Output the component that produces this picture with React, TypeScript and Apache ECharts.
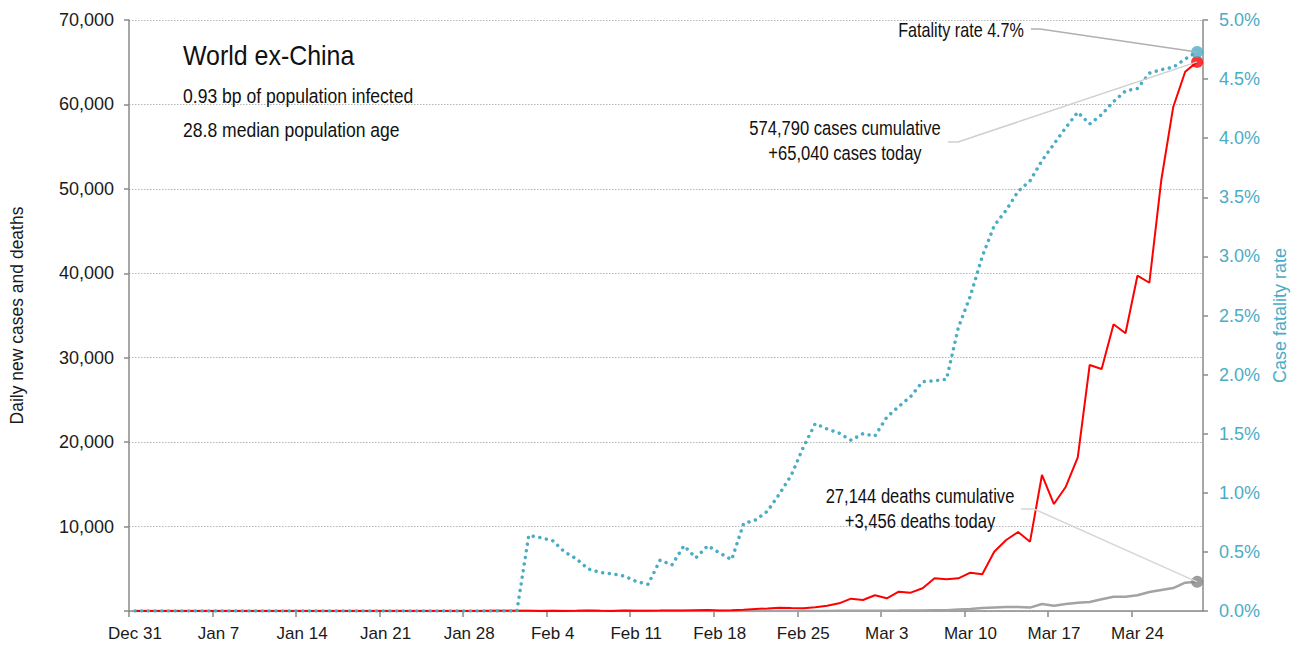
import React, { useEffect, useRef } from "react";
import * as echarts from "echarts";

// Day 0 = 31 Dec 2019; each daily value is plotted at noon of its date
const START_UTC = Date.UTC(2019, 11, 31);
const DAY_MS = 86400000;
const NOON = 0.5;
const MONTHS = ["Jan", "Feb", "Mar", "Apr", "May", "Jun", "Jul", "Aug", "Sep", "Oct", "Nov", "Dec"];

// Daily new cases, world ex-China (Dec 31 .. Mar 29)
const dailyCases = [
  0, 0, 0, 0, 0, 0, 0, 0, 0, 0, 0, 0, 0, // Dec 31 - Jan 12
  1, 0, 1, 0, 1, 0, 2, 3, 5, 3, 8, 9, 10, 14, 6, 12, 13, 16, 20, // Jan 13 - Jan 31
  15, 17, 10, 18, 14, 30, 55, 25, 12, 70, 25, 40, 45, 70, 60, 95, 110, 60, // Feb 1 - Feb 18
  90, 150, 240, 300, 390, 350, 330, 440, 630, 910, 1460, // Feb 19 - Feb 29
  1300, 1860, 1500, 2290, 2170, 2690, 3870, 3750, 3870, 4540, // Mar 1 - Mar 10
  4350, 7020, 8410, 9360, 8210, 16110, 12670, 14720, 18200, 29140, // Mar 11 - Mar 20
  28660, 33960, 32890, 39710, 38880, 51050, 59700, 63870, 65040, // Mar 21 - Mar 29
];

// Daily new deaths, world ex-China
const dailyDeaths = [
  0, 0, 0, 0, 0, 0, 0, 0, 0, 0, 0, 0, 0, // Dec 31 - Jan 12
  0, 0, 0, 0, 0, 0, 0, 0, 0, 0, 0, 0, 0, 0, 0, 0, 0, 0, 0, // Jan 13 - Jan 31
  0, 1, 0, 0, 0, 0, 0, 0, 0, 0, 0, 0, 1, 0, 1, 0, 1, 1, // Feb 1 - Feb 18
  2, 4, 5, 6, 8, 10, 12, 10, 12, 15, 18, // Feb 19 - Feb 29
  25, 30, 40, 45, 60, 70, 100, 100, 190, 250, // Mar 1 - Mar 10
  360, 420, 460, 480, 400, 830, 630, 830, 980, 1070, // Mar 11 - Mar 20
  1390, 1690, 1690, 1860, 2250, 2490, 2720, 3350, 3456, // Mar 21 - Mar 29
];

// Case fatality rate (%), cumulative deaths / cumulative cases
const fatalityRate = [
  0, 0, 0, 0, 0, 0, 0, 0, 0, 0, 0, 0, 0, // Dec 31 - Jan 12
  0, 0, 0, 0, 0, 0, 0, 0, 0, 0, 0, 0, 0, 0, 0, 0, 0, 0, 0, // Jan 13 - Jan 31
  0, 0.64, 0.62, 0.595, 0.5, 0.44, 0.355, 0.326, 0.314, 0.295, 0.25, 0.226, 0.43, 0.39, 0.552, 0.45, 0.552, 0.49, // Feb 1 - Feb 18
  0.434, 0.74, 0.77, 0.845, 0.99, 1.15, 1.385, 1.585, 1.54, 1.505, 1.445, // Feb 19 - Feb 29
  1.5, 1.48, 1.64, 1.73, 1.815, 1.94, 1.948, 1.96, 2.4, 2.665, // Mar 1 - Mar 10
  3.0, 3.26, 3.39, 3.55, 3.64, 3.81, 3.95, 4.09, 4.22, 4.12, // Mar 11 - Mar 20
  4.2, 4.31, 4.4, 4.42, 4.55, 4.58, 4.6, 4.67, 4.73, // Mar 21 - Mar 29
];

const TITLE = "World ex-China";
const SUBTITLES = ["0.93 bp of population infected", "28.8 median population age"];
const FATALITY_NOTE = "Fatality rate 4.7%";
const CASES_NOTE = "574,790 cases cumulative\n+65,040 cases today";
const DEATHS_NOTE = "27,144 deaths cumulative\n+3,456 deaths today";

const RED = "#ff0000";
const GREY = "#a3a3a3";
const GREY_DOT = "#858585";
const TEAL = "#4bacc6";
const AXIS = "#8a8a8a";
const FONT = "'Liberation Sans', Arial, sans-serif";

const fmtDay = (v: number) => {
  if (v % 7 !== 0) return "";
  const d = new Date(START_UTC + v * DAY_MS);
  return MONTHS[d.getUTCMonth()] + " " + d.getUTCDate();
};

export default function App() {
  const ref = useRef<HTMLDivElement>(null);
  useEffect(() => {
    document.body.style.margin = "0";
    const chart = echarts.init(ref.current!, undefined, { renderer: "svg" });
    const toXY = (arr: number[]) => arr.map((v, i) => [i + NOON, v]);
    const last = dailyCases.length - 1;
    const lastX = last + NOON;

    chart.setOption({
      animation: false,
      backgroundColor: "#ffffff",
      grid: { left: 127, right: 91, top: 20, bottom: 40 },
      xAxis: {
        type: "value",
        min: 0,
        max: 90,
        interval: 7,
        axisLine: { show: true, onZero: false, lineStyle: { color: AXIS, width: 1.5 } },
        axisTick: { show: true, length: 6, lineStyle: { color: AXIS, width: 1.5 } },
        axisLabel: {
          formatter: fmtDay,
          showMaxLabel: false,
          fontFamily: FONT,
          fontSize: 17,
          color: "#1a1a1a",
          margin: 14,
          padding: [0, 0, 0, 12],
        },
        splitLine: { show: false },
      },
      yAxis: [
        {
          type: "value",
          min: 0,
          max: 70000,
          interval: 10000,
          name: "Daily new cases and deaths",
          nameLocation: "middle",
          nameGap: 103,
          nameTextStyle: { fontFamily: FONT, fontSize: 17.5, color: "#1a1a1a" },
          axisLine: { show: true, lineStyle: { color: AXIS, width: 1.5 } },
          axisTick: { show: true, length: 5, lineStyle: { color: AXIS, width: 1.5 } },
          axisLabel: {
            formatter: (v: number) => (v === 0 ? "" : v.toLocaleString("en-US")),
            fontFamily: FONT,
            fontSize: 18,
            color: "#1a1a1a",
            margin: 15,
          },
          splitLine: { show: true, lineStyle: { color: "#b5b5b5", width: 1, type: [1.5, 1.5] } },
        },
        {
          type: "value",
          min: 0,
          max: 5,
          interval: 0.5,
          position: "right",
          name: "Case fatality rate",
          nameLocation: "middle",
          nameGap: 56,
          nameTextStyle: { fontFamily: FONT, fontSize: 18, color: TEAL },
          axisLine: { show: true, lineStyle: { color: AXIS, width: 1.5 } },
          axisTick: { show: true, length: 5, lineStyle: { color: AXIS, width: 1.5 } },
          axisLabel: {
            formatter: (v: number) => v.toFixed(1) + "%",
            fontFamily: FONT,
            fontSize: 18,
            color: TEAL,
            margin: 16,
          },
          splitLine: { show: false },
        },
      ],
      series: [
        {
          name: "Daily new deaths",
          type: "line",
          data: toXY(dailyDeaths),
          showSymbol: false,
          lineStyle: { color: GREY, width: 2.5 },
          z: 2,
        },
        {
          name: "Daily new cases",
          type: "line",
          data: toXY(dailyCases),
          showSymbol: false,
          lineStyle: { color: RED, width: 2 },
          z: 3,
        },
        {
          name: "Case fatality rate",
          type: "line",
          yAxisIndex: 1,
          data: toXY(fatalityRate),
          showSymbol: false,
          lineStyle: { color: TEAL, width: 3.5, type: [0.01, 6.7], cap: "round" },
          z: 4,
        },
        {
          type: "scatter",
          data: [[lastX, dailyDeaths[last]]],
          symbolSize: 12,
          itemStyle: { color: GREY_DOT },
          z: 5,
        },
        {
          type: "scatter",
          data: [[lastX, dailyCases[last]]],
          symbolSize: 12,
          itemStyle: { color: RED },
          z: 5,
        },
        {
          type: "scatter",
          yAxisIndex: 1,
          data: [[lastX, fatalityRate[last]]],
          symbolSize: 12,
          itemStyle: { color: TEAL },
          z: 6,
        },
      ],
    });

    const pCase = chart.convertToPixel({ xAxisIndex: 0, yAxisIndex: 0 }, [lastX, dailyCases[last]]) as number[];
    const pDeath = chart.convertToPixel({ xAxisIndex: 0, yAxisIndex: 0 }, [lastX, dailyDeaths[last]]) as number[];
    const pRate = chart.convertToPixel({ xAxisIndex: 0, yAxisIndex: 1 }, [lastX, fatalityRate[last]]) as number[];

    // condensed look: taller glyphs squeezed horizontally
    const txt = (text: string, x: number, y: number, size: number, squeeze: number, align: string, lineHeight?: number) => ({
      type: "text",
      z: 10,
      x,
      y,
      scaleX: squeeze,
      style: {
        text,
        x: 0,
        y: 0,
        fill: "#111111",
        font: `normal ${size}px ${FONT}`,
        textAlign: align,
        textVerticalAlign: "middle",
        lineHeight: lineHeight || size * 1.2,
      },
    });

    chart.setOption({
      graphic: [
        txt(TITLE, 183, 55, 28.5, 0.875, "left"),
        txt(SUBTITLES[0], 183, 96, 19.5, 0.9, "left"),
        txt(SUBTITLES[1], 183, 130, 19.5, 0.9, "left"),
        txt(FATALITY_NOTE, 1024, 30, 19.5, 0.83, "right"),
        txt(CASES_NOTE, 845, 141, 19.5, 0.85, "center", 25),
        txt(DEATHS_NOTE, 920, 509, 19.5, 0.85, "center", 25),
        {
          type: "polyline",
          z: 8,
          shape: { points: [[1031, 29], [1040, 29], pRate] },
          style: { stroke: "#b0b0b0", lineWidth: 1.5, fill: null },
        },
        {
          type: "polyline",
          z: 8,
          shape: { points: [[948, 142], [958, 142], pCase] },
          style: { stroke: "#cfcfcf", lineWidth: 1.5, fill: null },
        },
        {
          type: "polyline",
          z: 8,
          shape: { points: [[1021, 509], [1034, 509], pDeath] },
          style: { stroke: "#d6d6d6", lineWidth: 1.5, fill: null },
        },
      ],
    });

    return () => chart.dispose();
  }, []);
  return <div ref={ref} style={{ width: 1297, height: 651 }} />;
}
